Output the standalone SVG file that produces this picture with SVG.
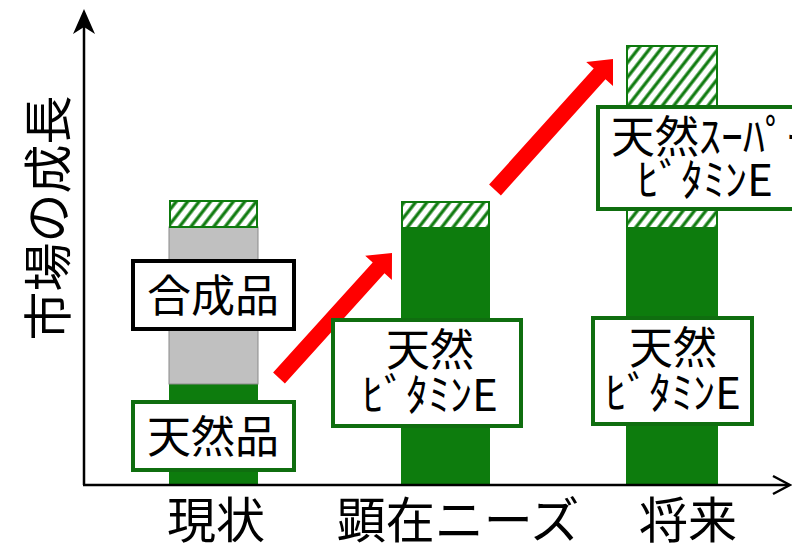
<svg xmlns="http://www.w3.org/2000/svg" width="792" height="548" viewBox="0 0 792 548">
<defs>
<pattern id="hatch" patternUnits="userSpaceOnUse" width="9" height="9" patternTransform="rotate(38)">
<rect width="9" height="9" fill="#ffffff"/>
<line x1="2" y1="0" x2="2" y2="9" stroke="#0e7a0e" stroke-width="3.2"/>
</pattern>
<style>
.t{font-family:"Noto Sans CJK JP","Noto Sans CJK SC",sans-serif;fill:#000;text-anchor:middle}
.lab{font-size:44px}
.ax{font-size:49px}
.green{fill:#0d7c0d}
.hat{fill:url(#hatch);stroke:#0e7a0e;stroke-width:2}
.gray{fill:#c0c0c0;stroke:#8a8a8a;stroke-width:1}
.gbox{fill:#fff;stroke:#0f6e0f;stroke-width:4}
.kbox{fill:#fff;stroke:#000;stroke-width:4}
.red{fill:#ff0000}
</style>
</defs>
<rect width="792" height="548" fill="#fff"/>
<g id="bar-genjou">
<rect x="169" y="384" width="89" height="101" class="green"/>
<rect x="169" y="227" width="89" height="157" class="gray"/>
<rect x="170" y="201" width="87" height="26" class="hat"/>
</g>
<g id="bar-kenzai">
<rect x="401" y="228" width="89" height="257" class="green"/>
<rect x="402" y="202" width="87" height="26" class="hat"/>
</g>
<g id="bar-shourai">
<rect x="626" y="228" width="92" height="257" class="green"/>
<rect x="627" y="46" width="90" height="182" class="hat"/>
</g>
<g id="axes">
<line x1="84" y1="485" x2="84" y2="24" stroke="#000" stroke-width="2.5"/>
<path d="M84,9 L73,34 L84,27 L95,34 Z" fill="#000"/>
<line x1="83" y1="485" x2="789" y2="485" stroke="#000" stroke-width="2.5"/>
<path d="M773,476 L790,485 L773,494" fill="none" stroke="#000" stroke-width="2.5"/>
</g>
<g id="connectors">
<polygon class="red" points="273.1,372.6 372.7,262.4 365.2,255.7 392,253 391.9,279.9 384.5,273.2 284.9,383.4"/>
<polygon class="red" points="489.1,184.6 593.7,68.5 586.2,61.9 613,59 613,85.9 605.5,79.3 500.9,195.4"/>
</g>
<g id="label-gousei">
<rect x="133" y="261" width="161" height="68" class="kbox"/>
<text x="213" y="312" class="t lab">合成品</text>
</g>
<g id="label-tennen">
<rect x="133" y="402" width="161" height="68" class="gbox"/>
<text x="213" y="453" class="t lab">天然品</text>
</g>
<g id="label-kenzai">
<rect x="333" y="320" width="188" height="106" class="gbox"/>
<text class="t lab"><tspan x="430" y="366">天然</tspan><tspan x="430" y="411">ﾋﾞﾀﾐﾝE</tspan></text>
</g>
<g id="label-shourai-low">
<rect x="593" y="318" width="159" height="106" class="gbox"/>
<text class="t lab"><tspan x="673" y="364">天然</tspan><tspan x="673" y="409">ﾋﾞﾀﾐﾝE</tspan></text>
</g>
<g id="label-shourai-high">
<rect x="598" y="107" width="210" height="102" class="gbox"/>
<text class="t lab"><tspan x="611" y="153" style="text-anchor:start">天然ｽｰﾊﾟｰ</tspan><tspan x="705" y="196">ﾋﾞﾀﾐﾝE</tspan></text>
</g>
<g id="axis-labels">
<text x="216" y="538" class="t ax">現状</text>
<text x="458" y="538" class="t ax">顕在ニーズ</text>
<text x="688" y="538" class="t ax">将来</text>
<text transform="translate(66,218) rotate(-90)" class="t ax">市場の成長</text>
</g>
</svg>
